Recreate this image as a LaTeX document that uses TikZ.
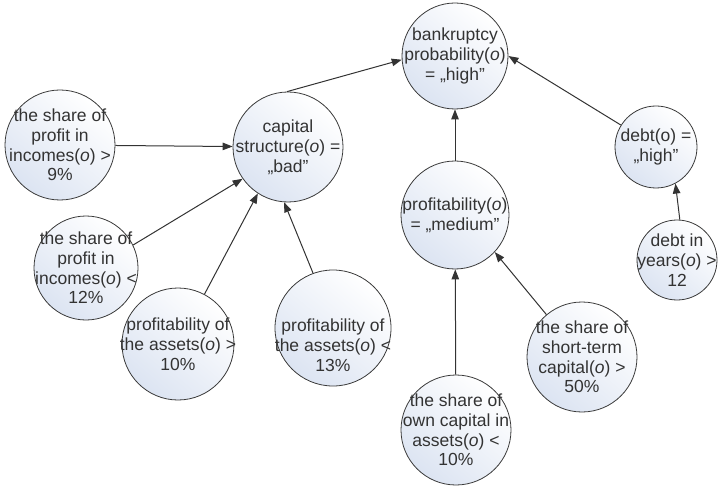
\documentclass[tikz,border=0pt]{standalone}
\usepackage{fontspec}
\setmainfont{Liberation Sans}
\usetikzlibrary{arrows.meta}
\definecolor{ink}{HTML}{333333}
\definecolor{rim}{HTML}{3A3A3A}
\definecolor{glow}{HTML}{DCE4F2}
\begin{document}
\begin{tikzpicture}[x=1pt,y=-1pt,
  state/.style={circle, draw=rim, line width=0.8pt, inner sep=0pt,
    top color=white, bottom color=glow, shading angle=-40},
  caption/.style={align=center, text=ink, inner sep=0pt,
    font=\fontsize{17.5}{19.8}\selectfont},
  link/.style={draw=ink, line width=1pt, -{Triangle[length=10pt,width=7.5pt]}}]
\useasboundingbox (0,0) rectangle (719,486);

% circles
\node[state, minimum size=106] (bank)  at (455,56)  {};
\node[state, minimum size=110] (cap)   at (288,147) {};
\node[state, minimum size=110] (s9)    at (60,145)  {};
\node[state, minimum size=104] (s12)   at (86,268)  {};
\node[state, minimum size=112] (p10)   at (178,344) {};
\node[state, minimum size=116] (p13)   at (333,328) {};
\node[state, minimum size=108] (med)   at (455,215) {};
\node[state, minimum size=82]  (debt)  at (656,147) {};
\node[state, minimum size=80]  (years) at (677,260) {};
\node[state, minimum size=110] (short) at (582,357) {};
\node[state, minimum size=110] (own)   at (456,430) {};

% texts
\node[caption] (bank-t)  at (bank)  {bankruptcy\\probability(\textit{o})\\= „high"};
\node[caption] (cap-t)   at (cap)   {capital\\structure(\textit{o}) =\\„bad"};
\node[caption] (s9-t)    at (s9)    {the share of\\profit in\\incomes(\textit{o}) >\\9\%};
\node[caption] (s12-t)   at (s12)   {the share of\\profit in\\incomes(\textit{o}) <\\12\%};
\node[caption] (p10-t)   at (p10)   {profitability of\\the assets(\textit{o}) >\\10\%};
\node[caption] (p13-t)   at (333,345) {profitability of\\the assets(\textit{o}) <\\13\%};
\node[caption] (med-t)   at (med)   {profitability(\textit{o})\\= „medium"};
\node[caption] (debt-t)  at (debt)  {debt(o) =\\„high"};
\node[caption] (years-t) at (years) {debt in\\years(\textit{o}) >\\12};
\node[caption] (short-t) at (short) {the share of\\short-term\\capital(\textit{o}) >\\50\%};
\node[caption] (own-t)   at (own)   {the share of\\own capital in\\assets(\textit{o}) <\\10\%};

% connectors
\draw[link] (s9) -- (cap);
\draw[link] (s12.26) -- (cap.215);
\draw[link] (p10.62) -- (cap.237);
\draw[link] (p13.110) -- (cap.266);
\draw[link] (cap.91) -- (bank.184);
\draw[link] (med) -- (bank);
\draw[link] (debt.148) -- (bank.east);
\draw[link] (years.86) -- (debt.-62);
\draw[link] (own) -- (med);
\draw[link] (short.130) -- (med.-43);
\end{tikzpicture}
\end{document}
